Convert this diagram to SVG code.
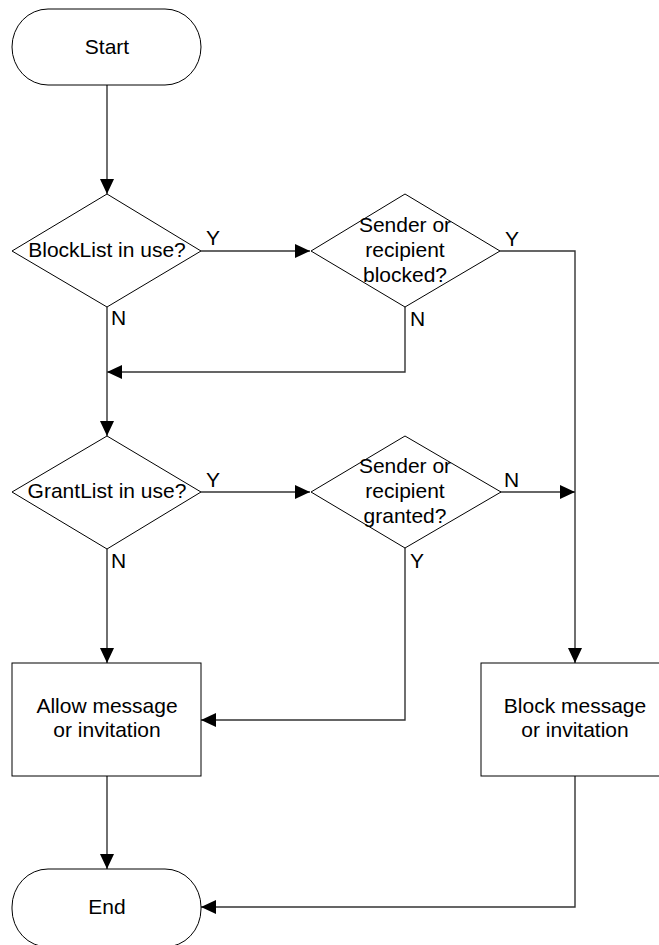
<svg xmlns="http://www.w3.org/2000/svg" width="659" height="945" viewBox="0 0 659 945">
<style>
.shape{fill:#fff;stroke:#000;stroke-width:1}
.conn{fill:none;stroke:#333;stroke-width:1.4}
.t{font-family:"Liberation Sans",Arial,sans-serif;font-size:21px;fill:#000;text-anchor:middle}
.lbl{font-family:"Liberation Sans",Arial,sans-serif;font-size:21px;fill:#000}
</style>
<defs>
<marker id="ah" markerUnits="userSpaceOnUse" markerWidth="15" markerHeight="14" refX="15" refY="7" orient="auto">
<path d="M0,0 L15,7 L0,14 z" fill="#000"/>
</marker>
</defs>
<rect width="659" height="945" fill="#fff"/>
<g id="connectors">
<path class="conn" d="M107,85 V194" marker-end="url(#ah)"/>
<path class="conn" d="M201,251 H310" marker-end="url(#ah)"/>
<path class="conn" d="M500,251 H575 V663" marker-end="url(#ah)"/>
<path class="conn" d="M405,307 V372 H107" marker-end="url(#ah)"/>
<path class="conn" d="M107,307 V436" marker-end="url(#ah)"/>
<path class="conn" d="M201,492 H310" marker-end="url(#ah)"/>
<path class="conn" d="M500,492 H575" marker-end="url(#ah)"/>
<path class="conn" d="M405,548 V720 H201" marker-end="url(#ah)"/>
<path class="conn" d="M107,549 V663" marker-end="url(#ah)"/>
<path class="conn" d="M107,776 V869" marker-end="url(#ah)"/>
<path class="conn" d="M575,776 V907 H201" marker-end="url(#ah)"/>
<text class="lbl" x="206" y="245">Y</text>
<text class="lbl" x="111" y="325">N</text>
<text class="lbl" x="505" y="246">Y</text>
<text class="lbl" x="410" y="326">N</text>
<text class="lbl" x="206" y="487">Y</text>
<text class="lbl" x="111" y="568">N</text>
<text class="lbl" x="504" y="487">N</text>
<text class="lbl" x="410" y="568">Y</text>
</g>
<g id="start">
<rect class="shape" x="12" y="9" width="189" height="76" rx="36" ry="38"/>
<text class="t" x="107" y="54">Start</text>
</g>
<g id="blocklist">
<polygon class="shape" points="107,194 201,251 107,307 12,251"/>
<text class="t" x="107" y="257">BlockList in use?</text>
</g>
<g id="blocked">
<polygon class="shape" points="405,194 500,251 405,307 311,251"/>
<text class="t" x="405" y="232">Sender or</text>
<text class="t" x="405" y="257">recipient</text>
<text class="t" x="405" y="282">blocked?</text>
</g>
<g id="grantlist">
<polygon class="shape" points="107,436 201,492 107,549 12,492"/>
<text class="t" x="107" y="498">GrantList in use?</text>
</g>
<g id="granted">
<polygon class="shape" points="405,436 501,492 405,548 311,492"/>
<text class="t" x="405" y="473">Sender or</text>
<text class="t" x="405" y="498">recipient</text>
<text class="t" x="405" y="523">granted?</text>
</g>
<g id="allow">
<rect class="shape" x="12" y="663" width="189" height="113"/>
<text class="t" x="107" y="713">Allow message</text>
<text class="t" x="107" y="737">or invitation</text>
</g>
<g id="block">
<rect class="shape" x="481" y="663" width="189" height="113"/>
<text class="t" x="575" y="713">Block message</text>
<text class="t" x="575" y="737">or invitation</text>
</g>
<g id="end">
<rect class="shape" x="12" y="869" width="189" height="78" rx="36" ry="38"/>
<text class="t" x="107" y="914">End</text>
</g>
</svg>
